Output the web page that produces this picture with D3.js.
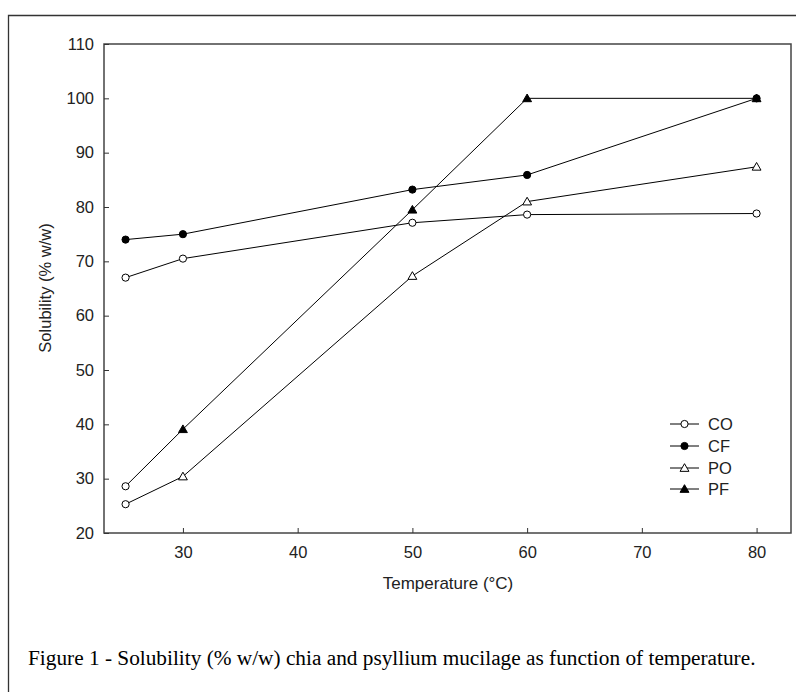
<!DOCTYPE html>
<html>
<head>
<meta charset="utf-8">
<script src="https://cdn.jsdelivr.net/npm/d3@7"></script>
<style>
  body { margin: 0; background: #fff; }
  svg { display: block; }
</style>
</head>
<body>
<svg id="chart" width="796" height="692"></svg>
<script>
// data
const temps = [25, 30, 50, 60, 80];
const CO = [67.0, 70.5, 77.1, 78.6, 78.8];
const CF = [74.0, 75.0, 83.2, 85.9, 100.0];
const PO = [25.3, 30.4, 67.3, 81.0, 87.4];
const PF = [28.6, 39.1, 79.5, 100.0, 100.0];
const seriesNames = ["CO", "CF", "PO", "PF"];
const xTicks = [30, 40, 50, 60, 70, 80];
const yTicks = [20, 30, 40, 50, 60, 70, 80, 90, 100, 110];

const series = [
  { name: "CO", values: CO, shape: "circle", fill: "#fff" },
  { name: "CF", values: CF, shape: "circle", fill: "#000" },
  { name: "PO", values: PO, shape: "triangle", fill: "#fff" },
  { name: "PF", values: PF, shape: "triangle", fill: "#000" }
];

const sans = "'Liberation Sans', Arial, sans-serif";
const svg = d3.select("#chart");
const margin = { left: 104, right: 5, top: 44, bottom: 159 };
const width = 796 - margin.left - margin.right;
const height = 692 - margin.top - margin.bottom;

// outer figure frame (top + left only visible)
svg.append("path")
  .attr("d", "M8.5,700 L8.5,15.5 L800,15.5")
  .attr("fill", "none").attr("stroke", "#333").attr("stroke-width", 1.3);

const g = svg.append("g").attr("transform", `translate(${margin.left},${margin.top})`);

const x = d3.scaleLinear().domain([23.12, 83.0]).range([0, width]);
const y = d3.scaleLinear().domain([20, 110]).range([height, 0]);

// plot frame
g.append("rect")
  .attr("x", 0).attr("y", 0).attr("width", width).attr("height", height)
  .attr("fill", "none").attr("stroke", "#444").attr("stroke-width", 1.5);

const xAxis = g.append("g").attr("transform", `translate(0,${height})`)
  .call(d3.axisBottom(x).tickValues(xTicks).tickSizeInner(-5).tickSizeOuter(0).tickPadding(13));
const yAxis = g.append("g")
  .call(d3.axisLeft(y).tickValues(yTicks).tickSizeInner(-5).tickSizeOuter(0).tickPadding(10));
[xAxis, yAxis].forEach(a => {
  a.select(".domain").remove();
  a.selectAll("line").attr("stroke", "#333");
  a.selectAll("text").attr("font-family", sans)
    .attr("font-size", 16.5).attr("fill", "#222");
});

// axis titles
svg.append("text")
  .attr("transform", "translate(51,288) rotate(-90)")
  .attr("text-anchor", "middle")
  .attr("font-family", sans)
  .attr("font-size", 16.5).attr("fill", "#222")
  .text("Solubility (% w/w)");
svg.append("text")
  .attr("x", 448).attr("y", 589)
  .attr("text-anchor", "middle")
  .attr("font-family", sans)
  .attr("font-size", 17).attr("fill", "#222")
  .text("Temperature (°C)");

const line = d3.line().x((d, i) => x(temps[i])).y(d => y(d));

series.forEach(s => {
  g.append("path").datum(s.values)
    .attr("fill", "none").attr("stroke", "#000").attr("stroke-width", 1)
    .attr("d", line);
});

const tri = d3.symbol().type(d3.symbolTriangle).size(34);
function marker(sel, shape, fill, cx, cy) {
  if (shape === "circle") {
    sel.append("circle").attr("cx", cx).attr("cy", cy).attr("r", 3.6)
      .attr("fill", fill).attr("stroke", "#000").attr("stroke-width", 1);
  } else {
    sel.append("path").attr("d", tri())
      .attr("transform", `translate(${cx},${cy + 0.8})`)
      .attr("fill", fill).attr("stroke", "#000").attr("stroke-width", 1);
  }
}

series.forEach(s => {
  s.values.forEach((v, i) => {
    // first points of PO and PF appear as open circles in the figure
    const shape = (s.shape === "triangle" && i === 0) ? "circle" : s.shape;
    const fill = (s.shape === "triangle" && i === 0) ? "#fff" : s.fill;
    marker(g, shape, fill, x(temps[i]), y(v));
  });
});

// legend
const legend = svg.append("g");
const legendY = [424, 446, 468, 489];
series.forEach((s, i) => {
  legend.append("line")
    .attr("x1", 670).attr("x2", 699).attr("y1", legendY[i]).attr("y2", legendY[i])
    .attr("stroke", "#000").attr("stroke-width", 1);
  marker(legend, s.shape, s.fill, 684.5, legendY[i]);
  legend.append("text")
    .attr("x", 708).attr("y", legendY[i] + 6)
    .attr("font-family", sans)
    .attr("font-size", 16.5).attr("fill", "#222")
    .text(seriesNames[i]);
});

// caption
svg.append("text")
  .attr("x", 28).attr("y", 665)
  .attr("font-family", "'Liberation Serif', 'Times New Roman', serif")
  .attr("font-size", 21.3).attr("fill", "#000")
  .text("Figure 1 - Solubility (% w/w) chia and psyllium mucilage as function of temperature.");
</script>
</body>
</html>
